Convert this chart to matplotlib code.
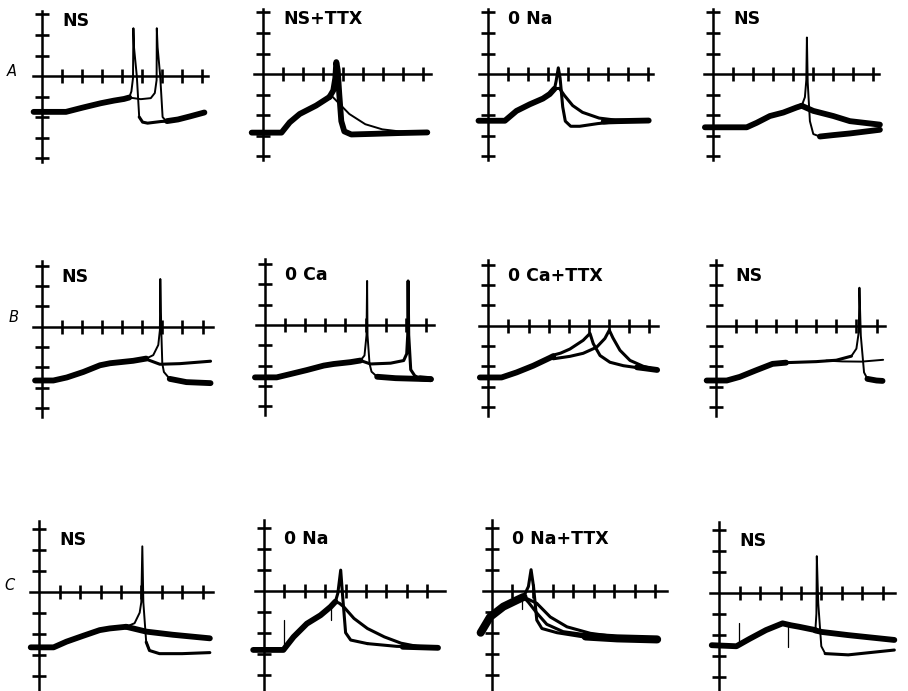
import matplotlib
matplotlib.use('Agg')
import matplotlib.pyplot as plt

# traces, in screen divisions (x: time, y: voltage)
# each entry is (x list, y list)

# A1  NS
a1_base = ([-0.42, 1.2, 2.0, 2.93, 3.6, 4.1, 4.36], [-1.75, -1.75, -1.55, -1.33, -1.2, -1.12, -1.05])
a1_spike1 = ([4.36, 4.47, 4.55, 4.57, 4.6, 4.74, 4.86], [-1.05, -0.75, -0.1, 2.33, 1.4, 0.0, -2.0])
a1_ahp1 = ([4.86, 5.03, 5.28, 5.95, 6.6], [-2.0, -2.25, -2.3, -2.22, -2.18])
a1_spike2 = ([4.36, 4.94, 5.44, 5.64, 5.73, 5.74, 5.78, 5.91, 6.03, 6.2], [-1.05, -1.13, -1.08, -0.83, -0.2, 2.33, 1.4, 0.0, -2.0, -2.2])
a1_tail = ([6.25, 6.8, 7.4, 8.12], [-2.2, -2.12, -1.97, -1.78])

# A2  NS+TTX
a2_base = ([-0.58, 0.91, 1.32, 1.82, 2.64, 3.31], [-2.86, -2.86, -2.36, -1.95, -1.54, -1.12])
a2_peak = ([3.31, 3.5, 3.6, 3.65, 3.72, 3.8, 3.9, 4.05, 4.4, 5.5, 6.8, 8.2],
           [-1.12, -0.8, -0.2, 0.58, 0.2, -1.0, -2.3, -2.8, -2.95, -2.92, -2.88, -2.85])
a2_decay = ([3.31, 3.39, 3.8, 4.3, 5.1, 5.95, 6.8, 7.5], [-1.12, -1.04, -1.45, -1.95, -2.45, -2.7, -2.8, -2.85])

# A3  0 Na
a3_base = ([-0.46, 0.86, 1.44, 2.1, 2.76, 3.1, 3.34], [-2.28, -2.28, -1.8, -1.48, -1.2, -0.98, -0.72])
a3_spike = ([3.34, 3.42, 3.53, 3.62, 3.75, 3.88, 4.15, 4.6, 5.5, 6.5, 8.05],
            [-0.72, -0.35, 0.3, -0.2, -1.6, -2.3, -2.55, -2.55, -2.42, -2.32, -2.28])
a3_decay = ([3.34, 3.59, 3.83, 4.25, 4.74, 5.57, 6.4, 8.05], [-0.72, -0.7, -1.04, -1.54, -1.87, -2.15, -2.25, -2.28])
a3_tail = ([5.8, 6.5, 8.05], [-2.32, -2.3, -2.27])

# A4  NS
a4_base = ([-0.42, 1.67, 2.17, 2.83, 3.5, 4.17, 4.42], [-2.6, -2.6, -2.38, -2.05, -1.88, -1.63, -1.55])
a4_spike = ([4.42, 4.58, 4.65, 4.68, 4.72, 4.83, 5.0, 5.33], [-1.55, -1.13, -0.3, 1.78, -0.4, -2.3, -2.93, -3.05])
a4_ahp = ([5.33, 6.0, 6.83, 8.33], [-3.05, -2.98, -2.9, -2.72])
a4_plateau = ([4.42, 5.0, 6.0, 6.83, 8.33], [-1.55, -1.8, -2.05, -2.3, -2.47])

# B1  NS
b1_base = ([-0.33, 0.58, 1.25, 2.07, 2.9, 3.4, 4.55, 5.2], [-2.65, -2.65, -2.5, -2.23, -1.9, -1.8, -1.68, -1.57])
b1_spike = ([5.2, 5.55, 5.8, 5.88, 5.9, 5.95, 6.0, 6.08, 6.37], [-1.57, -1.4, -0.9, -0.17, 2.35, -0.2, -1.82, -2.23, -2.57])
b1_ahp = ([6.37, 7.2, 8.4], [-2.57, -2.73, -2.78])
b1_plateau = ([5.2, 5.88, 6.87, 8.4], [-1.6, -1.85, -1.82, -1.7])

# B2  0 Ca
b2_base = ([-0.5, 0.58, 1.25, 2.08, 2.92, 3.42, 4.25, 4.75], [-2.58, -2.58, -2.42, -2.22, -2.0, -1.92, -1.83, -1.75])
b2_spike1 = ([4.75, 4.95, 5.05, 5.08, 5.1, 5.2, 5.3, 5.58], [-1.75, -1.5, -0.5, 2.17, -0.5, -1.9, -2.3, -2.55])
b2_ahp1 = ([5.58, 6.5, 8.25], [-2.55, -2.62, -2.67])
b2_spike2 = ([4.75, 5.25, 6.25, 6.9, 7.05, 7.1, 7.12, 7.15, 7.25, 7.45, 7.7],
             [-1.75, -1.92, -1.88, -1.75, -1.42, -0.5, 2.17, -0.5, -2.2, -2.5, -2.62])
b2_ahp2 = ([7.7, 8.25], [-2.62, -2.67])

# B3  0 Ca+TTX
b3_base = ([-0.42, 0.66, 1.41, 2.24, 3.07, 3.23], [-2.55, -2.55, -2.3, -1.97, -1.58, -1.5])
b3_early = ([3.23, 3.6, 4.06, 4.72, 5.06, 5.22, 5.56, 6.05, 6.72, 7.5, 8.4],
            [-1.45, -1.35, -1.15, -0.72, -0.38, -0.88, -1.47, -1.8, -1.97, -2.08, -2.18])
b3_late = ([3.23, 4.06, 4.72, 5.39, 5.8, 6.02, 6.2, 6.55, 7.05, 7.71, 8.4],
           [-1.63, -1.51, -1.36, -1.06, -0.63, -0.22, -0.6, -1.21, -1.71, -2.0, -2.18])
b3_tail = ([7.4, 7.8, 8.4], [-2.05, -2.1, -2.18])

# B4  NS
b4_base = ([-0.45, 0.55, 1.2, 2.0, 2.83, 3.5], [-2.7, -2.7, -2.52, -2.2, -1.88, -1.82])
b4_pre = ([3.5, 5.0, 6.0, 6.75], [-1.82, -1.77, -1.7, -1.5])
b4_spike = ([6.75, 7.0, 7.12, 7.15, 7.22, 7.38, 7.55], [-1.5, -1.13, -0.3, 1.87, -0.5, -2.3, -2.62])
b4_ahp = ([7.55, 8.0, 8.3], [-2.62, -2.7, -2.72])
b4_plateau = ([5.5, 6.3, 7.25, 8.33], [-1.72, -1.76, -1.77, -1.68])

# C1  NS
c1_base = ([-0.42, 0.7, 1.33, 2.15, 2.96, 3.45, 4.26], [-2.65, -2.65, -2.38, -2.1, -1.83, -1.75, -1.67])
c1_spike = ([4.26, 4.67, 4.92, 5.0, 5.05, 5.1, 5.24, 5.4], [-1.67, -1.5, -1.0, -0.5, 2.16, -0.5, -2.4, -2.8])
c1_ahp = ([5.24, 5.4, 5.89, 7.0, 8.36], [-2.4, -2.8, -2.95, -2.95, -2.9])
c1_plateau = ([4.26, 5.24, 6.54, 8.36], [-1.67, -1.9, -2.05, -2.22])

# C2  0 Na
c2_base = ([-0.53, 0.95, 1.45, 2.1, 2.77, 3.26, 3.5], [-2.82, -2.82, -2.2, -1.57, -1.17, -0.77, -0.52])
c2_art1 = ([0.98, 0.98], [-2.8, -1.4])
c2_art2 = ([3.26, 3.26], [-0.77, -1.4])
c2_spike = ([3.5, 3.62, 3.76, 3.85, 4.0, 4.25, 5.07], [-0.52, -0.12, 0.98, -0.2, -2.0, -2.35, -2.52])
c2_ahp = ([5.07, 6.5, 8.53], [-2.52, -2.65, -2.7])
c2_decay = ([3.5, 3.7, 3.92, 4.41, 5.07, 5.9, 6.72, 7.5, 8.53], [-0.52, -0.6, -0.78, -1.32, -1.8, -2.2, -2.5, -2.65, -2.7])
c2_tail = ([6.8, 7.5, 8.53], [-2.67, -2.69, -2.72])

# C3  0 Na+TTX
c3_base = ([-0.54, -0.08, 0.57, 1.23, 1.56], [-2.0, -1.25, -0.76, -0.45, -0.3])
c3_spike = ([1.56, 1.8, 1.93, 2.05, 2.21, 2.46, 3.2, 4.5, 8.11], [-0.3, 0.2, 1.0, 0.2, -1.4, -1.8, -2.0, -2.2, -2.33])
c3_decay = ([1.56, 2.21, 2.87, 3.69, 4.84, 6.15, 8.11], [-0.3, -0.6, -1.25, -1.72, -2.03, -2.2, -2.33])
c3_decay2 = ([1.56, 1.8, 2.2, 2.7, 3.5, 5.0, 8.11], [-0.3, -0.55, -1.05, -1.6, -1.95, -2.15, -2.3])
c3_art = ([1.5, 1.5], [-0.2, -0.85])
c3_tail = ([4.6, 6.15, 8.11], [-2.18, -2.27, -2.32])

# C4  NS
c4_base = ([-0.37, 0.84, 1.48, 2.29, 3.1, 3.5, 3.9, 4.71], [-2.5, -2.55, -2.2, -1.78, -1.46, -1.55, -1.62, -1.78])
c4_art1 = ([0.97, 0.97], [-1.45, -2.5])
c4_art2 = ([3.37, 3.37], [-1.5, -2.6])
c4_spike = ([4.71, 4.76, 4.78, 4.85, 5.0, 5.19], [-1.78, -1.0, 1.74, -0.5, -2.55, -2.9])
c4_ahp = ([5.19, 6.32, 8.58], [-2.9, -2.96, -2.73])
c4_plateau = ([4.71, 5.03, 6.32, 8.58], [-1.8, -1.87, -2.02, -2.25])

row_labels = ['A', 'B', 'C']
panel_labels = [['NS', 'NS+TTX', '0 Na', 'NS'],
                ['NS', '0 Ca', '0 Ca+TTX', 'NS'],
                ['NS', '0 Na', '0 Na+TTX', 'NS']]

# (trace, width key) per panel
panel_traces = [
    [[(a1_base, 'thick'), (a1_spike1, 'thin'), (a1_ahp1, 'mid'), (a1_spike2, 'thin'), (a1_tail, 'thick')],
     [(a2_base, 'thick'), (a2_decay, 'thin'), (a2_peak, 'thick')],
     [(a3_base, 'thick'), (a3_spike, 'mid'), (a3_decay, 'mid'), (a3_tail, 'thick')],
     [(a4_base, 'thick'), (a4_spike, 'thin'), (a4_ahp, 'thick'), (a4_plateau, 'thick')]],
    [[(b1_base, 'thick'), (b1_spike, 'thin'), (b1_ahp, 'thick'), (b1_plateau, 'mid')],
     [(b2_base, 'thick'), (b2_spike1, 'thin'), (b2_ahp1, 'thick'), (b2_spike2, 'mid'), (b2_ahp2, 'thick')],
     [(b3_base, 'thick'), (b3_early, 'mid'), (b3_late, 'mid'), (b3_tail, 'thick')],
     [(b4_base, 'thick'), (b4_pre, 'mid'), (b4_spike, 'thin'), (b4_ahp, 'thick'), (b4_plateau, 'thin')]],
    [[(c1_base, 'thick'), (c1_spike, 'thin'), (c1_ahp, 'mid'), (c1_plateau, 'thick')],
     [(c2_base, 'thick'), (c2_art1, 'hair'), (c2_art2, 'hair'), (c2_spike, 'mid'), (c2_ahp, 'mid'),
      (c2_decay, 'mid'), (c2_tail, 'thick')],
     [(c3_base, 'heavy'), (c3_art, 'hair'), (c3_spike, 'mid'), (c3_decay, 'mid'), (c3_decay2, 'mid'),
      (c3_tail, 'heavy')],
     [(c4_base, 'thick'), (c4_art1, 'hair'), (c4_art2, 'hair'), (c4_spike, 'thin'), (c4_ahp, 'mid'),
      (c4_plateau, 'thick')]],
]

# ---- layout (pixels of the 908x691 picture) ----
W, H = 908, 691
LW = {'hair': 0.9, 'thin': 1.4, 'mid': 2.2, 'thick': 4.2, 'heavy': 5.8}
origins = [[(42.0, 76.0), (263.3, 74.0), (487.7, 74.0), (713.3, 74.0)],
           [(41.7, 326.7), (265.0, 325.0), (488.3, 325.7), (715.7, 325.7)],
           [(39.3, 591.7), (264.0, 590.7), (491.7, 590.7), (719.3, 592.7)]]
div_px = [(20.0, 20.5), (20.1, 20.3), (20.4, 21.0)]
vbounds = [(-4.2, 3.15), (-4.45, 3.25), (-4.9, 3.35)]
hright = [[8.3, 8.38, 8.25, 8.3], [8.5, 8.4, 8.45, 8.4], [8.5, 8.85, 8.6, 8.6]]
label_base = [2.45, 2.22, 2.2]
row_letter_pos = [(12, 76), (14, 322), (10, 590)]

XLIM = (-0.8, 9.2)
YLIM = (-5.2, 3.7)

fig = plt.figure(figsize=(W / 100, H / 100), dpi=100)

for r in range(3):
    dx, dy = div_px[r]
    for c in range(4):
        ox, oy = origins[r][c]
        left = ox + XLIM[0] * dx
        top = oy - YLIM[1] * dy
        w = (XLIM[1] - XLIM[0]) * dx
        h = (YLIM[1] - YLIM[0]) * dy
        ax = fig.add_axes([left / W, 1 - (top + h) / H, w / W, h / H])
        ax.set_xlim(*XLIM)
        ax.set_ylim(*YLIM)
        ax.patch.set_visible(False)
        for s in ['top', 'right']:
            ax.spines[s].set_visible(False)
        ax.spines['left'].set_position(('data', 0))
        ax.spines['bottom'].set_position(('data', 0))
        ax.spines['left'].set_bounds(*vbounds[r])
        ax.spines['bottom'].set_bounds(-0.45, hright[r][c])
        for s in ['left', 'bottom']:
            ax.spines[s].set_linewidth(1.8)
        ax.set_xticks(range(1, 9))
        ax.set_yticks([-4, -3, -2, -1, 1, 2, 3])
        ax.tick_params(direction='inout', length=9.5, width=1.9,
                       labelleft=False, labelbottom=False)

        for (xs, ys), wkey in panel_traces[r][c]:
            ax.plot(xs, ys, color='black', lw=LW[wkey], solid_capstyle='round',
                    solid_joinstyle='round', clip_on=False)

        ax.text(1.0, label_base[r], panel_labels[r][c], fontsize=12.5,
                fontweight='bold', ha='left', va='baseline')

    lx, ly = row_letter_pos[r]
    fig.text(lx / W, 1 - ly / H, row_labels[r], fontsize=10.5, style='italic',
             ha='center', va='baseline')

fig.savefig('out.png', dpi=100)
